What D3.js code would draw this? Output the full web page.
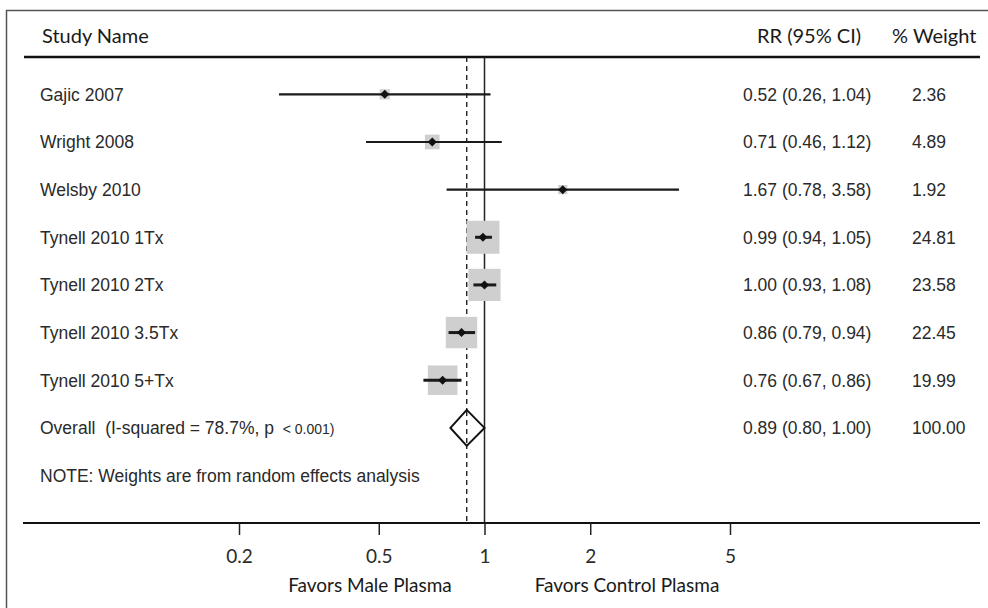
<!DOCTYPE html>
<html>
<head>
<meta charset="utf-8">
<script src="https://cdnjs.cloudflare.com/ajax/libs/d3/7.8.5/d3.min.js"></script>
<style>
    html, body { margin: 0; padding: 0; background: #fff; }
    svg { display: block; }
    text { white-space: pre; }
    .name { font-family: "Liberation Sans", Arial, sans-serif; font-size: 17.5px; fill: #2a2a2a; }
    .head { font-family: Lato, "Open Sans", sans-serif; font-size: 20px; fill: #1a1a1a; }
    .tick text { font-family: Lato, "Open Sans", sans-serif; font-size: 19px; fill: #2a2a2a; }
</style>
</head>
<body>
<div id="chart"></div>
<script>
    var studies = ['Gajic 2007', 'Wright 2008', 'Welsby 2010', 'Tynell 2010 1Tx',
        'Tynell 2010 2Tx', 'Tynell 2010 3.5Tx', 'Tynell 2010 5+Tx'];
    var rr = [0.52, 0.71, 1.67, 0.99, 1.00, 0.86, 0.76];
    var lower = [0.26, 0.46, 0.78, 0.94, 0.93, 0.79, 0.67];
    var upper = [1.04, 1.12, 3.58, 1.05, 1.08, 0.94, 0.86];
    var weights = [2.36, 4.89, 1.92, 24.81, 23.58, 22.45, 19.99];

    var overallLabel = 'Overall  (I-squared = 78.7%, p ';
    var overallP = ' < 0.001)';
    var overall = [0.89, 0.80, 1.00];
    var overallWeight = 100.00;

    var note = 'NOTE: Weights are from random effects analysis';
    var tickValues = [0.2, 0.5, 1, 2, 5];
    var axisTitles = ['Favors Male Plasma', 'Favors Control Plasma'];

    var W = 988, H = 608;
    var yTop = 57, yBottom = 523;

    var svg = d3.select('#chart').append('svg')
        .attr('width', W).attr('height', H);

    // frame
    svg.append('path')
        .attr('d', 'M6.5,' + (H + 2) + 'V10.5H' + (W + 2))
        .attr('fill', 'none').attr('stroke', '#555').attr('stroke-width', 1.5);

    var x = d3.scaleLog().domain([0.2, 5]).range([239, 730]);

    var rows = studies.concat(['Overall', 'NOTE']);
    var y = d3.scaleBand().domain(rows).range([70.5, 70.5 + 47.65 * rows.length]);
    function yc(name) { return y(name) + y.bandwidth() / 2; }

    var boxSize = d3.scaleSqrt().domain([0, 24.81]).range([0, 33]);

    // header
    svg.append('text').attr('class', 'head').attr('x', 42).attr('y', 43).text('Study Name');
    svg.append('text').attr('class', 'head').attr('x', 757).attr('y', 43).text('RR (95% CI)');
    svg.append('text').attr('class', 'head').attr('x', 892).attr('y', 43).text('% Weight');

    svg.append('line')
        .attr('x1', 24).attr('x2', 980).attr('y1', yTop).attr('y2', yTop)
        .attr('stroke', '#111').attr('stroke-width', 2.5);

    // reference lines
    svg.append('line')
        .attr('x1', x(1)).attr('x2', x(1)).attr('y1', yTop).attr('y2', yBottom)
        .attr('stroke', '#222').attr('stroke-width', 1.5);
    svg.append('line')
        .attr('x1', x(overall[0])).attr('x2', x(overall[0])).attr('y1', yTop).attr('y2', yBottom)
        .attr('stroke', '#222').attr('stroke-width', 1.4)
        .attr('stroke-dasharray', '5,4');

    // studies
    for (var i = 0; i < studies.length; i++) {
        var cy = yc(studies[i]);
        var s = boxSize(weights[i]);
        var g = svg.append('g');

        g.append('rect')
            .attr('x', x(rr[i]) - s / 2).attr('y', cy - s / 2)
            .attr('width', s).attr('height', s)
            .attr('fill', '#cfcfcf');

        g.append('line')
            .attr('x1', x(lower[i])).attr('x2', x(upper[i]))
            .attr('y1', cy).attr('y2', cy)
            .attr('stroke', '#1a1a1a').attr('stroke-width', weights[i] > 10 ? 3 : 2.2);

        var cx = x(rr[i]);
        g.append('path')
            .attr('d', 'M' + (cx - 4.5) + ',' + cy + 'L' + cx + ',' + (cy - 4.5) +
                'L' + (cx + 4.5) + ',' + cy + 'L' + cx + ',' + (cy + 4.5) + 'Z')
            .attr('fill', '#111');

        svg.append('text').attr('class', 'name')
            .attr('x', 40).attr('y', cy).attr('dy', '0.36em').text(studies[i]);
        svg.append('text').attr('class', 'name')
            .attr('x', 743).attr('y', cy).attr('dy', '0.36em')
            .text(rr[i].toFixed(2) + ' (' + lower[i].toFixed(2) + ', ' + upper[i].toFixed(2) + ')');
        svg.append('text').attr('class', 'name')
            .attr('x', 912).attr('y', cy).attr('dy', '0.36em').text(weights[i].toFixed(2));
    }

    // overall diamond
    var oy = yc('Overall');
    svg.append('path')
        .attr('d', 'M' + x(overall[1]) + ',' + oy +
            'L' + x(overall[0]) + ',' + (oy - 18) +
            'L' + x(overall[2]) + ',' + oy +
            'L' + x(overall[0]) + ',' + (oy + 18) + 'Z')
        .attr('fill', '#fff').attr('stroke', '#111').attr('stroke-width', 2);
    // dashed line shows through the diamond in the original
    svg.append('line')
        .attr('x1', x(overall[0])).attr('x2', x(overall[0]))
        .attr('y1', oy - 17).attr('y2', oy + 17)
        .attr('stroke', '#222').attr('stroke-width', 1.4)
        .attr('stroke-dasharray', '5,4');

    var ot = svg.append('text').attr('class', 'name')
        .attr('x', 40).attr('y', oy).attr('dy', '0.36em');
    ot.append('tspan').text(overallLabel);
    ot.append('tspan').style('font-size', '14px').text(overallP);

    svg.append('text').attr('class', 'name')
        .attr('x', 743).attr('y', oy).attr('dy', '0.36em')
        .text(overall[0].toFixed(2) + ' (' + overall[1].toFixed(2) + ', ' + overall[2].toFixed(2) + ')');
    svg.append('text').attr('class', 'name')
        .attr('x', 912).attr('y', oy).attr('dy', '0.36em').text(overallWeight.toFixed(2));

    svg.append('text').attr('class', 'name')
        .attr('x', 40).attr('y', yc('NOTE')).attr('dy', '0.36em').text(note);

    // axis
    svg.append('line')
        .attr('x1', 23).attr('x2', 980).attr('y1', yBottom).attr('y2', yBottom)
        .attr('stroke', '#111').attr('stroke-width', 2.2);

    var axis = svg.append('g')
        .attr('transform', 'translate(0,' + yBottom + ')')
        .call(d3.axisBottom(x).tickValues(tickValues).tickFormat(d3.format('')).tickSize(12).tickPadding(15));
    axis.select('.domain').remove();
    axis.selectAll('.tick line').attr('stroke', '#222').attr('stroke-width', 1.5);

    svg.append('text').attr('class', 'head').style('font-size', '19px')
        .attr('x', 370).attr('y', 592).attr('text-anchor', 'middle').text(axisTitles[0]);
    svg.append('text').attr('class', 'head').style('font-size', '19px')
        .attr('x', 627).attr('y', 592).attr('text-anchor', 'middle').text(axisTitles[1]);
</script>
</body>
</html>
